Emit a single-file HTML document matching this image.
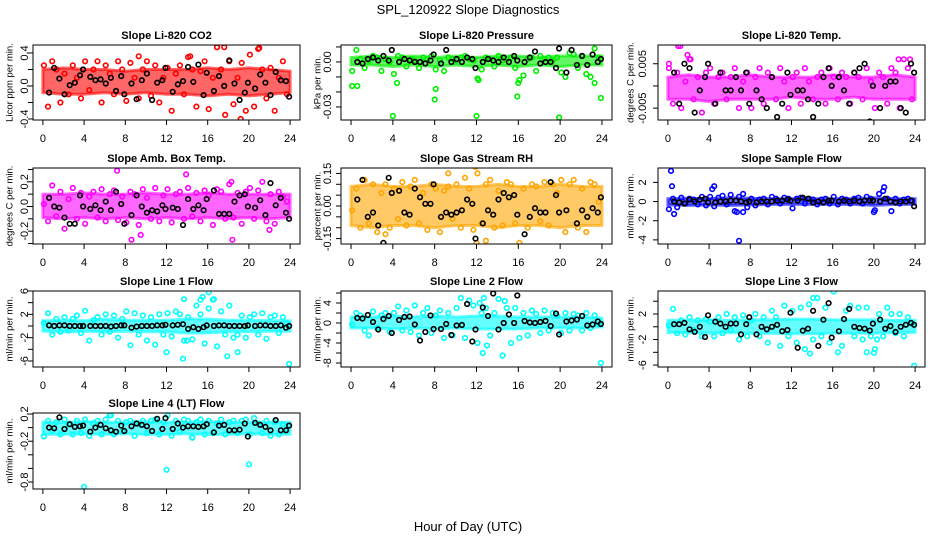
<!DOCTYPE html>
<html><head><meta charset="utf-8"><style>
html,body{margin:0;padding:0;background:#fff;}
svg{display:block;font-family:"Liberation Sans",sans-serif;}
</style></head><body>
<svg id="chart" width="936" height="540" viewBox="0 0 936 540" xmlns="http://www.w3.org/2000/svg">
<rect x="0" y="0" width="936" height="540" fill="#fff"/>
<text x="468" y="14" text-anchor="middle" font-size="13">SPL_120922  Slope Diagnostics</text>
<text x="468" y="531" text-anchor="middle" font-size="13">Hour of Day (UTC)</text>
</svg>
<script>
// shared hour arrays
const blackHours=[0.6,1.1,1.6,2.1,2.6,3.1,3.6,3.9,4.6,5.1,5.6,6.1,6.6,7.1,7.6,7.9,8.6,9.1,9.6,10.1,10.6,11.1,11.6,11.9,12.6,13.1,13.6,14.1,14.6,15.1,15.6,15.9,16.6,17.1,17.6,18.1,18.6,19.1,19.6,19.9,20.6,21.1,21.6,22.1,22.6,23.1,23.6,23.9];
const colorHours=[0.1,0.5,0.9,1.3,1.7,2.1,2.5,2.9,3.3,3.7,4.1,4.5,4.9,5.3,5.7,6.1,6.5,6.9,7.3,7.7,8.1,8.5,8.9,9.3,9.7,10.1,10.5,10.9,11.3,11.7,12.1,12.5,12.9,13.3,13.7,14.1,14.5,14.9,15.3,15.7,16.1,16.5,16.9,17.3,17.7,18.1,18.5,18.9,19.3,19.7,20.1,20.5,20.9,21.3,21.7,22.1,22.5,22.9,23.3,23.7];
const bandHours=[0,2,4,6,8,10,12,14,16,18,20,22,24];
const xTicks=[0,4,8,12,16,20,24];

// CO2
const co2Color=[0.25,-0.25,0.3,0.2,-0.2,0.15,-0.1,0.25,0.1,-0.15,0.3,-0.05,0.2,0.3,-0.2,0.25,0.15,-0.1,0.3,0.2,-0.18,0.28,0.1,-0.15,0.2,0.3,-0.12,0.25,-0.2,0.1,0.22,-0.3,0.15,0.25,-0.1,0.35,0.2,-0.25,0.18,0.3,-0.28,0.1,0.47,0.2,-0.35,0.3,-0.22,0.1,0.28,-0.3,0.38,-0.25,0.45,0.2,-0.15,0.22,-0.3,0.1,0.3,-0.1];
const co2OutHours=[16.9,17.6,19.2,21.0,14.3,9.3];
const co2OutVals=[0.47,0.47,-0.4,0.46,0.36,0.36];
const co2Black=[-0.08,0.22,0.09,-0.1,0.01,0.04,0.13,0.2,0.11,0.07,0.08,0.03,0.1,-0.06,0.12,-0.1,0.03,-0.16,0.07,0.15,-0.17,0.04,0.07,0.22,-0.07,0.02,0.06,0.23,0.05,0.26,-0.11,0.16,-0.06,0.12,0.0,0.31,0.03,-0.17,-0.08,0.04,-0.03,0.14,0.04,-0.11,0.17,0.07,0.06,-0.13];
const co2BandLo=[-0.08,-0.1,-0.1,-0.08,-0.1,-0.08,-0.1,-0.1,-0.12,-0.1,-0.12,-0.1,-0.08];
const co2BandHi=[0.2,0.22,0.2,0.2,0.18,0.2,0.2,0.2,0.22,0.2,0.22,0.2,0.18];
const co2Ticks=[-0.4,-0.2,0,0.2,0.4];
const co2Labels=["-0.4","","0.0","","0.4"];

// Pressure
const presColor=[-0.006,0.008,0.002,-0.004,0.001,0.004,0.003,-0.006,0.002,0.0,-0.008,0.004,0.003,-0.003,0.002,0.001,-0.004,0.003,0.002,0.004,-0.005,0.001,-0.006,0.003,0.002,0.001,0.003,0.004,0.002,0.001,-0.011,-0.005,0.003,0.002,-0.003,0.004,0.001,0.002,0.003,-0.004,-0.012,-0.009,0.002,0.003,-0.006,0.004,0.002,0.003,0.001,0.003,-0.007,-0.01,0.006,0.005,-0.004,0.004,-0.008,-0.01,0.009,0.003];
const presOutHours=[0.1,0.6,4.0,4.4,8.0,8.1,12.0,12.2,15.9,16.0,19.9,23.3,23.9];
const presOutVals=[-0.016,-0.016,-0.036,-0.014,-0.025,-0.018,-0.036,-0.012,-0.023,-0.014,-0.037,-0.014,-0.024];
const presBlack=[0.0,-0.001,0.002,0.003,0.001,0.004,0.001,0.008,0.0,0.002,0.001,0.0,0.0,-0.001,0.001,0.005,-0.001,0.008,0.0,0.002,0.0,0.003,0.002,-0.004,0.0,0.002,0.001,0.0,0.003,0.0,0.004,0.001,0.0,0.003,0.007,-0.001,0.0,0.0,-0.004,0.009,-0.007,0.008,-0.002,0.004,-0.002,0.005,0.0,0.002];
const presBandLo=[-0.002,-0.002,-0.003,-0.002,-0.003,-0.002,-0.003,-0.002,-0.003,-0.002,-0.003,-0.002,-0.002];
const presBandHi=[0.003,0.004,0.003,0.004,0.003,0.004,0.003,0.004,0.004,0.003,0.004,0.004,0.004];
const presTicks=[0.01,0,-0.01,-0.02,-0.03];
const presLabels=["","0.00","","","-0.03"];

// Li-820 Temp
const tempColor=[0.004,-0.004,0.003,-0.005,0.001,0.006,-0.003,0.002,-0.006,0.003,0.004,-0.004,0.002,0.003,-0.003,0.002,0.004,-0.005,0.001,0.003,-0.005,0.002,0.004,-0.004,0.003,0.002,-0.003,0.004,0.001,-0.005,0.002,0.003,-0.004,0.004,0.001,-0.003,0.002,0.003,-0.004,0.004,0.002,-0.003,0.003,0.002,-0.004,0.003,0.002,-0.003,0.004,0.001,-0.005,0.003,0.002,-0.004,0.004,0.003,-0.005,0.006,0.004,-0.003];
const tempOutHours=[1.0,1.2,1.9,3.5,0.1,2.2,22.4,23.5];
const tempOutVals=[0.009,0.009,0.007,-0.009,0.005,0.006,0.006,0.006];
const tempBlack=[0.003,-0.004,0.005,0.004,-0.006,-0.001,0.002,0.005,-0.004,0.003,-0.001,-0.001,0.002,-0.001,0.003,-0.004,-0.001,-0.003,-0.005,0.002,-0.007,-0.004,0.003,-0.002,-0.001,-0.001,-0.003,-0.007,-0.004,0.002,0.004,0.0,0.002,-0.001,-0.004,0.003,0.004,0.005,-0.008,0.0,-0.005,0.0,0.001,0.001,-0.005,-0.006,0.005,0.003];
const tempBandLo=[-0.003,-0.003,-0.0035,-0.003,-0.003,-0.003,-0.0025,-0.003,-0.003,-0.0025,-0.003,-0.003,-0.003];
const tempBandHi=[0.002,0.0025,0.002,0.002,0.0025,0.002,0.002,0.002,0.0025,0.002,0.002,0.0025,0.002];
const tempTicks=[0.005,0,-0.005];
const tempLabels=["0.005","","-0.005"];

// Amb Box Temp
const ambColor=[0.02,-0.12,0.17,-0.08,0.12,-0.18,0.06,0.15,-0.1,0.11,-0.14,0.08,0.12,-0.09,0.14,-0.12,0.1,0.13,-0.11,0.08,-0.13,0.12,0.1,-0.15,0.14,0.07,-0.1,0.15,-0.12,0.09,0.14,-0.13,0.1,0.12,-0.1,0.15,-0.08,0.11,-0.12,0.13,0.09,-0.15,0.14,0.12,-0.1,0.18,-0.09,0.11,-0.14,0.12,0.15,-0.1,0.13,0.2,-0.12,0.1,-0.14,0.12,0.08,0.04];
const ambOutHours=[7.2,8.6,9.5,13.9,18.3,18.4,22.0];
const ambOutVals=[0.29,-0.27,-0.23,0.26,0.2,-0.27,-0.19];
const ambBlack=[0.07,0.0,-0.01,-0.09,-0.14,-0.14,0.09,0.0,-0.02,0.01,-0.03,0.04,-0.03,0.12,0.02,-0.14,-0.07,0.09,0.0,-0.05,-0.03,-0.04,0.01,-0.02,-0.01,-0.02,-0.15,0.06,-0.02,0.01,-0.03,0.06,0.13,-0.06,-0.06,-0.06,0.04,0.09,0.1,0.0,-0.01,0.05,-0.07,0.19,0.01,0.07,-0.05,-0.1];
const ambBandLo=[-0.09,-0.1,-0.09,-0.1,-0.09,-0.1,-0.09,-0.1,-0.09,-0.1,-0.09,-0.1,-0.09];
const ambBandHi=[0.1,0.1,0.11,0.1,0.1,0.11,0.1,0.1,0.11,0.1,0.1,0.1,0.1];
const ambTicks=[0.3,0.2,0.1,0,-0.1,-0.2,-0.3];
const ambLabels=["","0.2","","0.0","","-0.2",""];

// Gas Stream RH
const rhColor=[-0.02,0.08,-0.1,0.12,-0.08,0.1,-0.12,0.06,0.1,-0.1,0.08,-0.06,0.11,-0.09,0.09,0.12,-0.08,0.06,-0.11,0.1,0.08,-0.12,0.07,0.09,-0.06,0.1,-0.1,0.13,0.08,-0.11,0.15,-0.08,0.1,0.12,-0.1,0.07,-0.09,0.11,0.1,-0.08,-0.17,0.08,-0.1,0.1,0.09,-0.07,0.11,-0.09,0.1,0.06,0.12,-0.12,0.1,0.12,-0.1,0.08,-0.12,0.11,0.1,0.02];
const rhOutHours=[3.3,9.3,11.9,12.0,12.9];
const rhOutVals=[-0.13,0.15,0.18,-0.17,-0.16];
const rhBlack=[0.03,0.12,-0.05,-0.03,-0.09,-0.17,0.13,0.06,0.07,-0.03,-0.04,0.08,0.04,0.01,0.01,0.1,-0.05,-0.03,-0.04,-0.03,-0.02,0.03,0.01,-0.15,-0.08,-0.02,-0.04,0.03,0.06,0.04,0.05,-0.04,-0.13,-0.05,-0.01,-0.03,-0.03,0.11,0.05,-0.03,-0.02,0.19,-0.08,-0.02,-0.05,-0.01,-0.03,0.04];
const rhBandLo=[-0.09,-0.1,-0.09,-0.09,-0.1,-0.09,-0.09,-0.1,-0.09,-0.09,-0.1,-0.09,-0.09];
const rhBandHi=[0.09,0.1,0.09,0.09,0.1,0.09,0.09,0.1,0.09,0.09,0.1,0.09,0.09];
const rhTicks=[0.15,0.1,0.05,0,-0.05,-0.1,-0.15];
const rhLabels=["0.15","","","0.00","","","-0.15"];

// Sample Flow
const sampColor=[-0.8,0.3,-0.6,0.4,-0.2,0.3,0.2,-0.3,0.5,-0.4,0.5,-0.5,0.4,0.6,-0.3,0.7,-1.0,0.5,0.8,-0.6,0.3,-0.4,0.2,0.3,-0.3,0.5,0.3,-0.2,0.4,0.3,-0.7,0.3,0.4,-0.2,0.3,0.2,-0.3,0.2,0.3,-0.2,0.5,-0.3,0.3,0.2,-0.2,0.3,0.4,-0.2,0.5,0.3,-0.9,0.8,1.1,0.3,-1.0,0.3,-0.2,0.2,0.3,0.1];
const sampOutHours=[0.3,0.4,0.6,4.3,4.5,6.9,7.3,20.0,21.0,6.7];
const sampOutVals=[3.2,1.6,-1.3,1.3,1.6,-4.1,-1.1,-1.1,1.5,-1.1];
const sampBlack=[0.0,-0.1,-0.2,0.2,0.0,0.2,0.3,-0.1,-0.1,0.0,0.0,0.1,0.1,0.0,-0.1,0.0,-0.1,0.0,0.0,0.0,0.1,0.1,0.2,0.1,0.1,0.4,0.3,-0.1,0.0,-0.1,0.1,0.1,0.0,0.1,0.0,0.1,0.0,0.1,0.1,0.1,0.0,0.3,0.0,-0.1,0.0,0.0,0.1,-0.5];
const sampBandLo=[-0.35,-0.4,-0.35,-0.4,-0.35,-0.3,-0.3,-0.3,-0.3,-0.3,-0.4,-0.3,-0.3];
const sampBandHi=[0.3,0.35,0.3,0.4,0.35,0.3,0.3,0.3,0.3,0.3,0.4,0.3,0.3];
const sampTicks=[2,0,-2,-4];
const sampLabels=["2","0","-2","-4"];

// Line 1 Flow
const l1Color=[0.5,2.2,-1.5,1.2,-1.0,1.5,-0.8,1.2,1.8,-1.2,2.6,-2.5,1.0,1.5,-1.5,2.0,-1.0,1.8,-2.0,1.2,2.5,-3.3,2.2,-1.5,1.8,-2.5,1.5,-3.2,2.0,-1.5,2.2,-1.8,2.5,2.0,-2.5,1.5,-2.3,3.5,2.0,-3.0,3.0,4.5,-3.5,2.5,-1.5,3.5,-2.0,-1.5,1.8,-2.0,1.5,2.0,-1.5,2.2,-2.2,1.5,1.8,-1.2,1.5,0.5];
const l1OutHours=[13.7,12.0,13.6,15.3,16.1,16.6,17.9,18.9,23.9,14.0,15.5];
const l1OutVals=[4.6,-4.5,-5.6,4.5,5.8,4.6,-5.2,-4.5,-6.5,-2.5,5.0];
const l1Black=[0.1,0.0,0.1,0.1,0.0,0.0,0.0,0.0,0.0,0.0,0.0,0.0,-0.1,0.0,0.1,0.1,-0.3,-0.1,0.0,0.0,0.0,0.1,0.1,0.2,0.1,0.2,0.3,-0.5,-0.2,-0.5,-0.2,0.1,0.0,0.1,0.1,0.0,0.0,0.0,0.0,0.1,0.0,0.1,0.1,0.0,0.0,0.1,-0.3,0.0];
const l1BandLo=[-0.9,-1.0,-0.9,-1.0,-0.9,-1.0,-1.0,-1.2,-1.2,-1.0,-1.0,-0.9,-0.9];
const l1BandHi=[0.9,1.0,0.9,1.2,1.0,1.0,1.0,1.2,1.2,1.0,1.0,0.9,0.9];
const l1Ticks=[6,4,2,0,-2,-4,-6];
const l1Labels=["6","","2","","-2","","-6"];

// Line 2 Flow
const l2Color=[-0.3,2.0,1.5,-1.5,-2.5,2.3,-1.0,1.5,2.0,-1.8,2.0,3.3,-1.5,2.5,-1.8,3.5,-2.5,2.0,3.0,-2.0,1.5,2.5,-3.0,2.0,-2.5,3.0,5.0,-3.0,4.5,3.5,-4.0,2.0,3.0,-2.5,2.0,4.8,-6.5,3.0,-4.0,3.0,-3.0,2.0,-2.5,2.5,1.8,-2.0,2.5,-1.5,2.0,1.5,-2.0,2.0,-1.5,1.8,1.5,-1.5,2.0,-1.0,1.5,-0.3];
const l2OutHours=[12.3,12.6,13.0,14.7,23.9,12.7];
const l2OutVals=[4.0,-6.0,-4.5,4.4,-8.0,5.0];
const l2Black=[1.0,0.9,1.6,0.2,-1.3,0.8,1.4,-2.0,0.6,1.2,1.3,-0.3,-3.5,-1.8,1.5,-1.2,-1.2,-0.2,-2.4,-0.5,-0.4,3.8,-3.7,-1.3,3.1,1.4,5.9,-1.3,0.0,1.7,0.0,5.5,0.4,0.1,0.0,0.2,0.4,-0.6,1.9,-2.3,0.3,0.5,0.7,1.4,-0.5,-0.3,0.3,-0.2];
const l2BandLo=[-1.0,-1.0,-1.2,-1.0,-1.2,-1.0,-1.2,-1.2,-1.2,-1.0,-1.0,-1.0,-0.8];
const l2BandHi=[1.2,1.2,1.4,1.2,1.4,1.2,1.4,1.4,1.2,1.2,1.2,1.2,1.0];
const l2Ticks=[6,4,2,0,-2,-4,-6,-8];
const l2Labels=["","4","","0","","-4","","-8"];

// Line 3 Flow
const l3Color=[0.2,2.8,-1.0,1.0,-1.2,1.5,-0.5,1.0,-1.5,1.2,0.8,-1.5,1.5,-1.0,2.0,-0.5,1.5,-2.0,1.8,-1.5,1.0,2.0,-1.5,1.5,-2.5,2.5,1.5,-3.0,3.3,-1.5,2.5,-2.5,3.0,-3.5,3.5,-2.0,4.5,-1.5,3.0,-2.5,5.5,-4.0,-3.0,2.5,3.3,-1.5,3.0,-2.0,3.0,-1.5,-3.5,2.0,-1.5,3.0,2.0,-1.0,2.0,-1.5,1.5,0.5];
const l3OutHours=[13.8,14.1,16.1,19.3,20.0,20.3,23.9];
const l3OutVals=[-4.2,4.5,6.0,-4.0,-4.1,-2.0,-6.1];
const l3Black=[0.4,0.4,0.6,-0.4,-0.8,0.0,-1.6,1.8,0.8,0.5,0.0,0.5,0.5,-1.2,0.4,1.5,-1.2,0.0,-0.4,0.0,0.3,-0.7,-0.5,2.2,-3.3,-0.6,-0.3,2.5,-3.0,1.1,3.7,-1.7,-0.7,1.2,2.8,0.0,-0.2,-0.3,-0.6,0.5,1.1,-0.3,0.1,-0.8,0.0,0.3,0.6,0.3];
const l3BandLo=[-0.9,-0.9,-1.0,-0.9,-1.0,-1.0,-1.1,-1.1,-1.0,-1.0,-1.0,-0.9,-0.9];
const l3BandHi=[1.0,1.0,1.1,1.0,1.1,1.1,1.2,1.2,1.1,1.1,1.1,1.0,1.0];
const l3Ticks=[4,2,0,-2,-4,-6];
const l3Labels=["","2","","-2","","-6"];

// Line 4 (LT) Flow
const l4Color=[-0.13,0.1,-0.05,0.08,-0.1,0.12,0.05,-0.1,0.1,-0.08,0.12,-0.12,0.06,0.1,-0.1,0.12,0.18,-0.1,0.1,-0.06,0.08,0.1,-0.12,0.05,0.1,-0.08,0.1,0.12,-0.1,0.08,0.18,-0.12,0.1,-0.06,0.12,0.1,-0.14,0.08,0.12,-0.1,0.1,-0.08,0.06,0.12,-0.1,0.08,0.1,-0.08,0.1,0.12,-0.1,0.14,0.06,-0.08,0.1,-0.12,0.08,-0.1,0.05,-0.02];
const l4OutHours=[4.0,12.0,20.0,14.5,6.6];
const l4OutVals=[-0.87,-0.62,-0.54,-0.15,0.18];
const l4Black=[0.0,-0.01,0.15,-0.02,0.05,0.01,0.02,0.03,-0.06,0.0,0.04,-0.01,-0.04,-0.06,0.03,-0.05,0.02,0.06,0.04,0.02,-0.05,0.13,-0.02,0.14,-0.02,0.06,0.0,0.02,0.02,0.01,0.02,0.05,-0.07,0.03,0.04,-0.04,-0.04,-0.03,0.06,-0.13,0.07,0.04,0.01,-0.04,0.11,-0.04,-0.04,0.03];
const l4BandLo=[-0.1,-0.1,-0.09,-0.1,-0.09,-0.1,-0.1,-0.09,-0.1,-0.1,-0.09,-0.1,-0.1];
const l4BandHi=[0.08,0.08,0.09,0.08,0.08,0.09,0.08,0.08,0.09,0.08,0.08,0.08,0.08];
const l4Ticks=[0.2,0,-0.2,-0.4,-0.6,-0.8];
const l4Labels=["0.2","","-0.2","","","-0.8"];

const NS="http://www.w3.org/2000/svg";
const svg=document.getElementById('chart');
function mk(tag,attrs,parent){const e=document.createElementNS(NS,tag);for(const k in attrs)e.setAttribute(k,attrs[k]);(parent||svg).appendChild(e);return e;}

const cols=[{l:33,r:300,lab:25,tit:10},{l:341,r:612,lab:328,tit:318},{l:658,r:925,lab:643,tit:631}];
const rows=[{t:45,b:120},{t:168,b:244},{t:291,b:367},{t:413,b:489}];

const panels=[
 {key:'co2',title:'Slope Li-820 CO2',ylab:'Licor ppm per min.',c:0,r:0,color:'#ff0000',yTop:0.497,yBot:-0.412,col:co2Color,oh:co2OutHours,ov:co2OutVals,blk:co2Black,lo:co2BandLo,hi:co2BandHi,ticks:co2Ticks,labels:co2Labels},
 {key:'pressure',title:'Slope Li-820 Pressure',ylab:'kPa per min.',c:1,r:0,color:'#00ee00',yTop:0.0113,yBot:-0.0387,col:presColor,oh:presOutHours,ov:presOutVals,blk:presBlack,lo:presBandLo,hi:presBandHi,ticks:presTicks,labels:presLabels},
 {key:'li820-temp',title:'Slope Li-820 Temp.',ylab:'degrees C per min.',c:2,r:0,color:'#ff00ff',yTop:0.00922,yBot:-0.00767,col:tempColor,oh:tempOutHours,ov:tempOutVals,blk:tempBlack,lo:tempBandLo,hi:tempBandHi,ticks:tempTicks,labels:tempLabels},
 {key:'amb-box-temp',title:'Slope Amb. Box Temp.',ylab:'degrees C per min.',c:0,r:1,color:'#ff00ff',yTop:0.312,yBot:-0.304,col:ambColor,oh:ambOutHours,ov:ambOutVals,blk:ambBlack,lo:ambBandLo,hi:ambBandHi,ticks:ambTicks,labels:ambLabels},
 {key:'gas-stream-rh',title:'Slope Gas Stream RH',ylab:'percent per min.',c:1,r:1,color:'#ffa500',yTop:0.175,yBot:-0.175,col:rhColor,oh:rhOutHours,ov:rhOutVals,blk:rhBlack,lo:rhBandLo,hi:rhBandHi,ticks:rhTicks,labels:rhLabels},
 {key:'sample-flow',title:'Slope Sample Flow',ylab:'ml/min per min.',c:2,r:1,color:'#0000ff',yTop:3.5,yBot:-4.43,col:sampColor,oh:sampOutHours,ov:sampOutVals,blk:sampBlack,lo:sampBandLo,hi:sampBandHi,ticks:sampTicks,labels:sampLabels},
 {key:'line1-flow',title:'Slope Line 1 Flow',ylab:'ml/min per min.',c:0,r:2,color:'#00ffff',yTop:6.0,yBot:-7.03,col:l1Color,oh:l1OutHours,ov:l1OutVals,blk:l1Black,lo:l1BandLo,hi:l1BandHi,ticks:l1Ticks,labels:l1Labels},
 {key:'line2-flow',title:'Slope Line 2 Flow',ylab:'ml/min per min.',c:1,r:2,color:'#00ffff',yTop:6.4,yBot:-8.8,col:l2Color,oh:l2OutHours,ov:l2OutVals,blk:l2Black,lo:l2BandLo,hi:l2BandHi,ticks:l2Ticks,labels:l2Labels},
 {key:'line3-flow',title:'Slope Line 3 Flow',ylab:'ml/min per min.',c:2,r:2,color:'#00ffff',yTop:5.6,yBot:-6.3,col:l3Color,oh:l3OutHours,ov:l3OutVals,blk:l3Black,lo:l3BandLo,hi:l3BandHi,ticks:l3Ticks,labels:l3Labels},
 {key:'line4-flow',title:'Slope Line 4 (LT) Flow',ylab:'ml/min per min.',c:0,r:3,color:'#00ffff',yTop:0.215,yBot:-0.903,col:l4Color,oh:l4OutHours,ov:l4OutVals,blk:l4Black,lo:l4BandLo,hi:l4BandHi,ticks:l4Ticks,labels:l4Labels}
];

panels.forEach(p=>{
  const C=cols[p.c],R=rows[p.r];
  const g=mk('g',{});
  
  
  const xs=h=>C.l+(h+0.96)/25.92*(C.r-C.l);
  const ys=v=>R.t+(p.yTop-v)/(p.yTop-p.yBot)*(R.b-R.t);
  const clip='clip-'+p.key;
  const cp=mk('clipPath',{id:clip},g);
  mk('rect',{x:C.l,y:R.t,width:C.r-C.l,height:R.b-R.t},cp);
  const plot=mk('g',{'clip-path':'url(#'+clip+')'},g);
  let pts=[];
  bandHours.forEach((h,i)=>pts.push(xs(h).toFixed(1)+','+ys(p.hi[i]).toFixed(1)));
  for(let i=bandHours.length-1;i>=0;i--)pts.push(xs(bandHours[i]).toFixed(1)+','+ys(p.lo[i]).toFixed(1));
  const band=mk('polygon',{points:pts.join(' '),fill:p.color,'fill-opacity':'0.6',stroke:p.color,'stroke-opacity':'0.6','stroke-width':'3'},plot);
  
  
  const dot=(x,y,col,nm)=>{const c=mk('circle',{cx:x.toFixed(1),cy:y.toFixed(1),r:'2.3',fill:'none',stroke:col,'stroke-width':'1.6'},plot);
    
    };
  p.col.forEach((v,i)=>dot(xs(colorHours[i]),ys(v),p.color,p.key+'-point'));
  p.oh.forEach((h,i)=>dot(xs(h),ys(p.ov[i]),p.color,p.key+'-outlier'));
  p.blk.forEach((v,i)=>dot(xs(blackHours[i]),ys(v),'#000',p.key+'-black-point'));
  const box=mk('rect',{x:C.l,y:R.t,width:C.r-C.l,height:R.b-R.t,fill:'none',stroke:'#000','stroke-width':'1'},g);
  
  
  const t=mk('text',{x:((C.l+C.r)/2).toFixed(1),y:R.t-6,'text-anchor':'middle','font-size':'11','font-weight':'bold'},g);
  t.textContent=p.title;
  
  
  xTicks.forEach(h=>{
    const x=xs(h);
    mk('line',{x1:x,y1:R.b,x2:x,y2:R.b+5,stroke:'#000','stroke-width':'1'},g);
    const tl=mk('text',{x:x,y:R.b+22,'text-anchor':'middle','font-size':'11'},g);
    tl.textContent=h;
    
    
  });
  p.ticks.forEach((v,i)=>{
    const y=ys(v);
    mk('line',{x1:C.l-5,y1:y,x2:C.l,y2:y,stroke:'#000','stroke-width':'1'},g);
    if(p.labels[i]){
      const yl=mk('text',{x:C.lab,y:y,'text-anchor':'middle','font-size':'11',transform:'rotate(-90 '+C.lab+' '+y+')'},g);
      yl.setAttribute('dominant-baseline','middle');
      yl.textContent=p.labels[i];
      
      
    }
  });
  const cy=(R.t+R.b)/2;
  const yt=mk('text',{x:C.tit,y:cy,'text-anchor':'middle','font-size':'9.5',transform:'rotate(-90 '+C.tit+' '+cy+')'},g);
  yt.setAttribute('dominant-baseline','middle');
  yt.textContent=p.ylab;
  
  
});
</script>
</body></html>
